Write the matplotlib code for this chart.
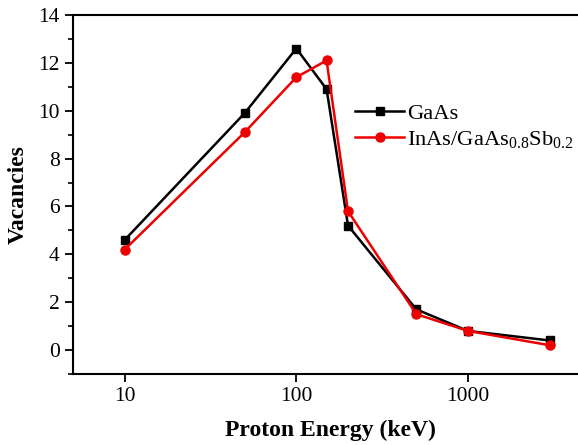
import matplotlib
matplotlib.use("Agg")
import matplotlib.pyplot as plt
from matplotlib.ticker import MultipleLocator, FixedLocator, NullLocator

energy = [10, 50, 100, 150, 200, 500, 1000, 3000]
gaas = [4.6, 9.9, 12.6, 10.9, 5.2, 1.7, 0.8, 0.4]
inas = [4.2, 9.1, 11.4, 12.1, 5.8, 1.5, 0.8, 0.2]
x_ticks = [10, 100, 1000]
x_ticklabels = ["10", "100", "1000"]
y_ticks = [0, 2, 4, 6, 8, 10, 12, 14]

plt.rcParams['font.family'] = ['Liberation Serif', 'DejaVu Serif']
plt.rcParams['mathtext.fontset'] = 'custom'
plt.rcParams['mathtext.rm'] = 'Liberation Serif'

W, H = 578, 445
fig = plt.figure(figsize=(W/100, H/100), dpi=100)
ax = fig.add_axes([73/W, 1-374/H, (588-73)/W, (374-15)/H])

ax.plot(energy, gaas, color='black', lw=1.8, marker='s', ms=5.5, label='GaAs')
ax.plot(energy, inas, color='#ee0000', lw=1.8, marker='o', ms=6.5, label=r'InAs/GaAs$_{0.8}$Sb$_{0.2}$')

ax.set_xscale('log')
ax.set_xlim(5, 5000)
ax.set_ylim(-1, 14)
ax.xaxis.set_major_locator(FixedLocator(x_ticks))
ax.set_xticklabels(x_ticklabels)
ax.xaxis.set_minor_locator(NullLocator())
ax.yaxis.set_major_locator(FixedLocator(y_ticks))
ax.yaxis.set_minor_locator(MultipleLocator(1))

for s in ['left', 'bottom', 'top', 'right']:
    ax.spines[s].set_linewidth(1.5)
ax.tick_params(axis='both', which='major', direction='out', length=6, width=1.3, labelsize=15.5)
ax.tick_params(axis='y', which='minor', direction='out', length=3.5, width=1.2)

ax.set_xlabel('Proton Energy (keV)', fontsize=17, fontweight='bold', labelpad=10)
ax.set_ylabel('Vacancies', fontsize=17, fontweight='bold', labelpad=7)

ax.legend(loc='upper left', bbox_to_anchor=(0.53, 0.78), frameon=False, fontsize=16.2,
          handlelength=2.2, handletextpad=0.1, labelspacing=0.25, borderaxespad=0)

fig.savefig('out.png', dpi=100)
